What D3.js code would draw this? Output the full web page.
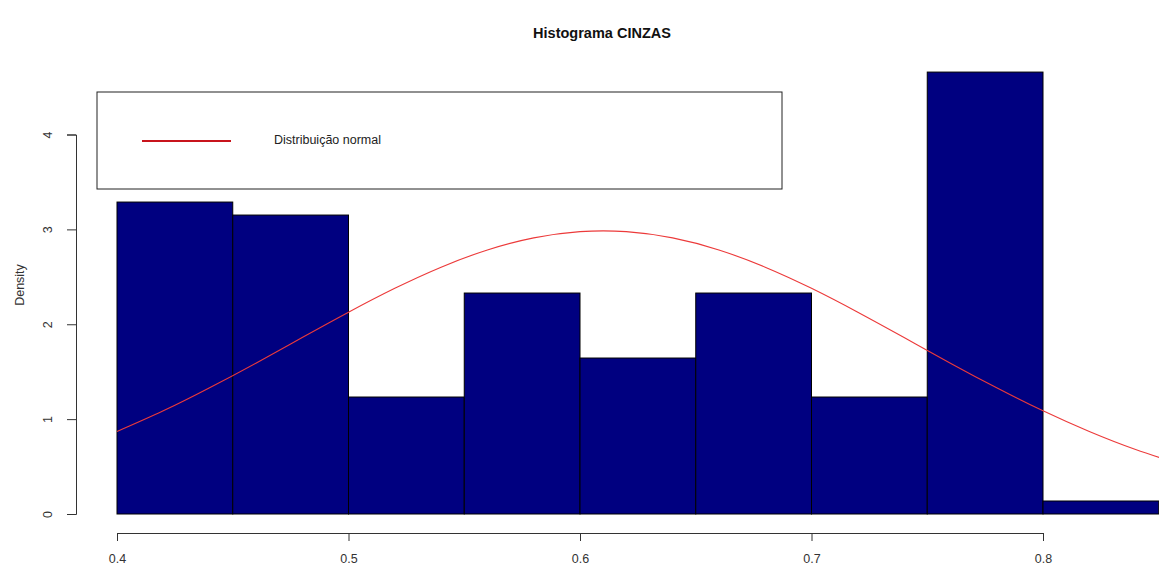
<!DOCTYPE html>
<html><head><meta charset="utf-8">
<script src="https://cdn.jsdelivr.net/npm/d3@7"></script>
<style>body{margin:0;background:#fff}svg{display:block;font-family:"Liberation Sans",Arial,sans-serif}</style>
</head><body><svg id="c" width="1159" height="566"></svg>
<script>
const binStarts = [0.40,0.45,0.50,0.55,0.60,0.65,0.70,0.75,0.80];
const binWidth = 0.05;
const densities = [3.288,3.151,1.233,2.329,1.644,2.329,1.233,4.658,0.137];
const curveX = [0.40,0.42,0.44,0.46,0.48,0.50,0.52,0.54,0.56,0.58,0.60,0.62,0.64,0.66,0.68,0.70,0.72,0.74,0.76,0.78,0.80,0.82,0.84,0.86];
const curveY = [0.869,1.087,1.330,1.590,1.860,2.127,2.379,2.602,2.783,2.910,2.976,2.976,2.910,2.783,2.602,2.379,2.127,1.860,1.590,1.330,1.087,0.869,0.679,0.519];
const xTicks = [0.4,0.5,0.6,0.7,0.8];
const yTicks = [0,1,2,3,4];
const title = "Histograma CINZAS";
const yLabel = "Density";
const legendLabel = "Distribuição normal";

const svg = d3.select("#c");
const x = d3.scaleLinear().domain([0.4,0.8]).range([117,1043]);
const y = d3.scaleLinear().domain([0,4]).range([514,134.5]);

svg.append("g").selectAll("rect").data(binStarts).join("rect")
  .attr("x", d=>x(d)).attr("width", d=>x(d+binWidth)-x(d))
  .attr("y", (d,i)=>y(densities[i])).attr("height",(d,i)=>y(0)-y(densities[i]))
  .attr("fill","#000080").attr("stroke","#000").attr("stroke-width",1);

const line = d3.line().x((d,i)=>x(curveX[i])).y(d=>y(d)).curve(d3.curveNatural);
svg.append("path").attr("d", line(curveY)).attr("fill","none").attr("stroke","#ec3a3a").attr("stroke-width",1.1);

// x axis
const xa = svg.append("g").attr("transform","translate(0,533)")
  .call(d3.axisBottom(x).tickValues(xTicks).tickSize(8).tickPadding(13).tickFormat(d3.format(".1f")));
xa.select(".domain").attr("stroke","#333");
xa.selectAll("line").attr("stroke","#333");
xa.selectAll("text").attr("font-size",12.5).attr("fill","#333").attr("font-family","Liberation Sans, Arial");

// y axis
const ya = svg.append("g").attr("transform","translate(76,0)")
  .call(d3.axisLeft(y).tickValues(yTicks).tickSize(9).tickFormat(d3.format("d")));
ya.select(".domain").attr("stroke","#333");
ya.selectAll("line").attr("stroke","#333");
ya.selectAll("text").attr("font-size",12.5).attr("fill","#333").attr("font-family","Liberation Sans, Arial")
  .attr("text-anchor","middle").attr("dy",null).attr("x",null)
  .attr("transform","translate(-27,0) rotate(-90)").attr("dominant-baseline","middle");

svg.append("text").attr("x",21).attr("y",285).attr("transform","rotate(-90,21,285)")
  .attr("text-anchor","middle").attr("dominant-baseline","middle").attr("font-size",12.5).attr("fill","#333").text(yLabel);

svg.append("text").attr("x",602).attr("y",38).attr("text-anchor","middle")
  .attr("font-size",14.5).attr("font-weight","bold").attr("fill","#111").text(title);

// legend
svg.append("rect").attr("x",97).attr("y",92).attr("width",685).attr("height",97)
  .attr("fill","#fff").attr("stroke","#222").attr("stroke-width",1);
svg.append("line").attr("x1",142).attr("x2",231).attr("y1",141).attr("y2",141)
  .attr("stroke","#c8141c").attr("stroke-width",2);
svg.append("text").attr("x",274).attr("y",141).attr("dominant-baseline","middle")
  .attr("font-size",12.5).attr("fill","#222").text(legendLabel);
</script></body></html>
